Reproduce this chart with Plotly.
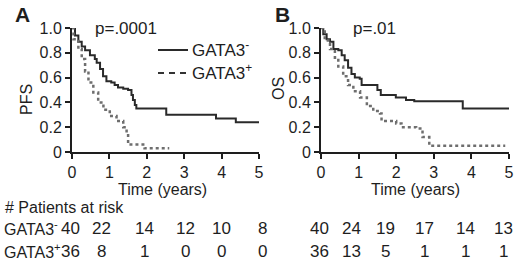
import plotly.graph_objects as go

# ---- data ----
pfs_neg_t = [0, 0.08, 0.17, 0.26, 0.35, 0.48, 0.61, 0.66, 0.75, 0.83, 0.92, 1.05, 1.14, 1.23, 1.37, 1.50, 1.59, 1.63, 1.68, 1.72, 2.52, 3.85, 4.38, 5.0]
pfs_neg_s = [1.0, 0.94, 0.89, 0.85, 0.82, 0.78, 0.75, 0.72, 0.67, 0.61, 0.57, 0.56, 0.54, 0.52, 0.51, 0.50, 0.46, 0.42, 0.38, 0.35, 0.30, 0.27, 0.24, 0.24]
pfs_pos_t = [0, 0.04, 0.17, 0.26, 0.35, 0.44, 0.57, 0.70, 0.84, 1.01, 1.19, 1.37, 1.46, 1.50, 1.94, 2.60]
pfs_pos_s = [1.0, 0.91, 0.83, 0.75, 0.65, 0.56, 0.48, 0.40, 0.34, 0.29, 0.25, 0.20, 0.15, 0.06, 0.03, 0.03]

os_neg_t = [0, 0.06, 0.15, 0.24, 0.33, 0.46, 0.55, 0.63, 0.72, 0.81, 0.90, 1.03, 1.08, 1.50, 1.59, 1.99, 2.26, 2.48, 3.77, 5.0]
os_neg_s = [1.0, 0.95, 0.91, 0.89, 0.83, 0.82, 0.78, 0.74, 0.68, 0.63, 0.60, 0.59, 0.54, 0.50, 0.46, 0.44, 0.42, 0.41, 0.35, 0.35]
os_pos_t = [0, 0.10, 0.24, 0.37, 0.46, 0.59, 0.72, 0.86, 1.04, 1.22, 1.39, 1.57, 1.61, 2.00, 2.14, 2.53, 2.70, 2.88, 4.90]
os_pos_s = [1.0, 0.90, 0.83, 0.76, 0.69, 0.61, 0.54, 0.49, 0.44, 0.37, 0.33, 0.31, 0.25, 0.23, 0.20, 0.19, 0.12, 0.05, 0.05]

risk_times = [0, 1, 2, 3, 4, 5]
pfs_risk_neg = [40, 22, 14, 12, 10, 8]
pfs_risk_pos = [36, 8, 1, 0, 0, 0]
os_risk_neg = [40, 24, 19, 17, 14, 13]
os_risk_pos = [36, 13, 5, 1, 1, 1]

y_ticks = [0, 0.2, 0.4, 0.6, 0.8, 1.0]
y_ticktext = ["0", "0.2", "0.4", "0.6", "0.8", "1.0"]
x_ticks = [0, 1, 2, 3, 4, 5]

# ---- styling ----
W, H = 520, 265
FONT = "Arial, Liberation Sans, sans-serif"
INK = "#1e1e1e"
SOLID = dict(color="#2a2a2a", width=2)
DOTTED = dict(color="#6e6e6e", width=2.5, dash="3px,3px")

def px(x):
    return x / W

def py(y):
    return 1 - y / H

fig = go.Figure()
fig.add_trace(go.Scatter(x=pfs_neg_t, y=pfs_neg_s, mode="lines", line=SOLID, line_shape="hv", xaxis="x", yaxis="y", showlegend=False))
fig.add_trace(go.Scatter(x=pfs_pos_t, y=pfs_pos_s, mode="lines", line=DOTTED, line_shape="hv", xaxis="x", yaxis="y", showlegend=False))
fig.add_trace(go.Scatter(x=os_neg_t, y=os_neg_s, mode="lines", line=SOLID, line_shape="hv", xaxis="x2", yaxis="y2", showlegend=False))
fig.add_trace(go.Scatter(x=os_pos_t, y=os_pos_s, mode="lines", line=DOTTED, line_shape="hv", xaxis="x2", yaxis="y2", showlegend=False))

ydom = [py(152), py(28)]
ax_common = dict(showgrid=False, zeroline=False, showline=True, linewidth=2, linecolor=INK,
                 ticks="outside", ticklen=5, tickwidth=2, tickcolor=INK, automargin=False,
                 tickfont=dict(family=FONT, size=16, color=INK))
fig.update_layout(
    template="none",
    width=W, height=H, autosize=False,
    margin=dict(l=0, r=0, t=0, b=0, pad=0),
    paper_bgcolor="white", plot_bgcolor="white",
    xaxis=dict(domain=[px(72), px(259)], range=[0, 5], tickvals=x_ticks, anchor="y", **ax_common),
    yaxis=dict(domain=ydom, range=[0, 1], tickvals=y_ticks, ticktext=y_ticktext, anchor="x", **ax_common),
    xaxis2=dict(domain=[px(321), px(509)], range=[0, 5], tickvals=x_ticks, anchor="y2", **ax_common),
    yaxis2=dict(domain=ydom, range=[0, 1], tickvals=y_ticks, ticktext=y_ticktext, anchor="x2", **ax_common),
)

ann = []
def text(x, y, s, size=16, xanchor="center", bold=False, angle=0, xref="paper", xshift=0):
    ann.append(dict(x=x, y=y, xref=xref, yref="paper", text=("<b>%s</b>" % s) if bold else s,
                    showarrow=False, xanchor=xanchor, yanchor="middle", textangle=angle, xshift=xshift,
                    font=dict(family=FONT, size=size, color=INK)))

text(px(22), py(15), "A", size=21, bold=True)
text(px(282), py(15), "B", size=21, bold=True)
text(px(126), py(29), "p=.0001", size=17)
text(px(374), py(29), "p=.01", size=17)
text(px(26), py(100), "PFS", size=16, angle=-90)
text(px(279), py(89), "OS", size=16, angle=-90)
text(2.5, py(189), "Time (years)", size=16, xref="x", xshift=-3)
text(2.5, py(189), "Time (years)", size=16, xref="x2")

# legend (manual)
text(px(190), py(49), "GATA3<sup>-</sup>", size=17, xanchor="left")
text(px(190), py(72), "GATA3<sup>+</sup>", size=17, xanchor="left")
shapes = [
    dict(type="line", xref="paper", yref="paper", x0=px(158), x1=px(188), y0=py(50), y1=py(50), line=dict(color="#2a2a2a", width=2)),
    dict(type="line", xref="paper", yref="paper", x0=px(158), x1=px(188), y0=py(73), y1=py(73), line=dict(color="#333333", width=2, dash="6px,5px")),
]

# risk table
text(px(3), py(207), "# Patients at risk", size=16, xanchor="left")
text(px(2), py(228), "GATA3<sup>-</sup>", size=16, xanchor="left")
text(px(2), py(251), "GATA3<sup>+</sup>", size=16, xanchor="left")
shift_a = [-1.5, -8, -2, 1, 0, 3]
shift_b = [-2, -7, -11, -9, -6, -6]
for i, t in enumerate(risk_times):
    text(t, py(228), str(pfs_risk_neg[i]), size=17, xref="x", xshift=shift_a[i])
    text(t, py(251), str(pfs_risk_pos[i]), size=17, xref="x", xshift=shift_a[i])
    text(t, py(228), str(os_risk_neg[i]), size=17, xref="x2", xshift=shift_b[i])
    text(t, py(251), str(os_risk_pos[i]), size=17, xref="x2", xshift=shift_b[i])

fig.update_layout(annotations=ann, shapes=shapes)
fig.write_html("out.html", config={"displayModeBar": False},
               post_script="document.body.style.margin='0px';document.body.style.overflow='hidden';")
